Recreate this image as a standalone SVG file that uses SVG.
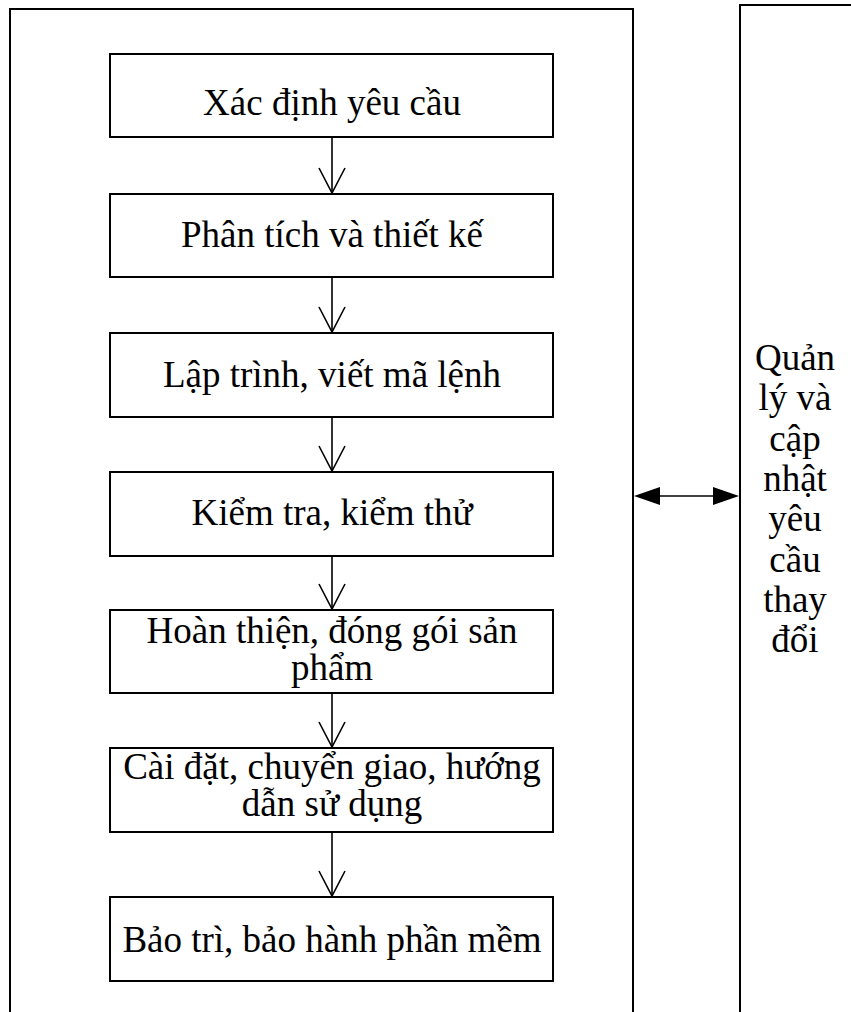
<svg xmlns="http://www.w3.org/2000/svg" width="851" height="1012" viewBox="0 0 851 1012">
<defs>
<style>
.frame{fill:none;stroke:#000;stroke-width:2}
.box{fill:#fff;stroke:#000;stroke-width:2}
.t{font-family:"Liberation Serif","Times New Roman",serif;font-size:37px;fill:#000;text-anchor:middle}
.c{stroke:#000;stroke-width:1.6;fill:none}
.ah{fill:#000;stroke:none}
</style>
<marker id="open" viewBox="0 0 28 28" refX="26" refY="14" markerWidth="28" markerHeight="28" markerUnits="userSpaceOnUse" orient="auto">
<path d="M1,1 L26,14 L1,27" fill="none" stroke="#000" stroke-width="1.6"/>
</marker>
</defs>
<rect width="851" height="1012" fill="#fff"/>
<g id="outer-left"><rect class="frame" x="10" y="9" width="623" height="1020"/></g>
<g id="outer-right"><rect class="frame" x="740" y="5" width="130" height="1030"/>
<text class="t" x="795"><tspan x="795" y="370">Quản</tspan><tspan x="795" y="410">lý và</tspan><tspan x="795" y="451">cập</tspan><tspan x="795" y="491">nhật</tspan><tspan x="795" y="531">yêu</tspan><tspan x="795" y="572">cầu</tspan><tspan x="795" y="612">thay</tspan><tspan x="795" y="652">đổi</tspan></text>
</g>
<g id="n1"><rect class="box" x="110" y="54" width="443" height="83"/><text class="t" x="332" y="115">Xác định yêu cầu</text></g>
<g id="n2"><rect class="box" x="110" y="194" width="443" height="83"/><text class="t" x="332" y="247">Phân tích và thiết kế</text></g>
<g id="n3"><rect class="box" x="110" y="333" width="443" height="84"/><text class="t" x="332" y="387">Lập trình, viết mã lệnh</text></g>
<g id="n4"><rect class="box" x="110" y="472" width="443" height="84"/><text class="t" x="332" y="525">Kiểm tra, kiểm thử</text></g>
<g id="n5"><rect class="box" x="110" y="610" width="443" height="83"/><text class="t" x="332" y="643">Hoàn thiện, đóng gói sản</text><text class="t" x="332" y="680">phẩm</text></g>
<g id="n6"><rect class="box" x="110" y="748" width="443" height="84"/><text class="t" x="332" y="779">Cài đặt, chuyển giao, hướng</text><text class="t" x="332" y="816">dẫn sử dụng</text></g>
<g id="n7"><rect class="box" x="110" y="897" width="443" height="84"/><text class="t" x="332" y="952">Bảo trì, bảo hành phần mềm</text></g>
<g id="connectors">
<line class="c" x1="332" y1="138" x2="332" y2="193" marker-end="url(#open)"/>
<line class="c" x1="332" y1="278" x2="332" y2="332" marker-end="url(#open)"/>
<line class="c" x1="332" y1="418" x2="332" y2="471" marker-end="url(#open)"/>
<line class="c" x1="332" y1="557" x2="332" y2="609" marker-end="url(#open)"/>
<line class="c" x1="332" y1="694" x2="332" y2="747" marker-end="url(#open)"/>
<line class="c" x1="332" y1="833" x2="332" y2="896" marker-end="url(#open)"/>
<line class="c" x1="655" y1="496" x2="718" y2="496" stroke-width="2"/>
<polygon class="ah" points="634,496 660,487 660,505"/>
<polygon class="ah" points="739,496 713,487 713,505"/>
</g>
</svg>
